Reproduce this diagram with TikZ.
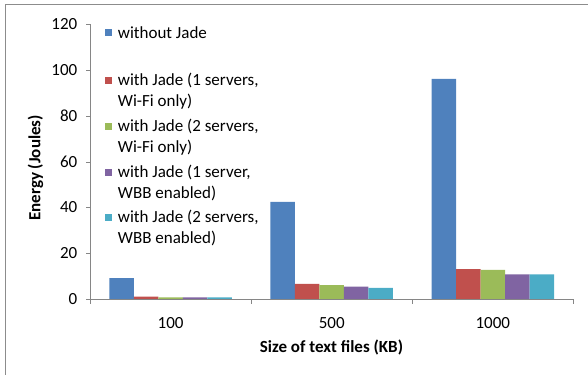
\documentclass[tikz,border=0pt]{standalone}
\usepackage{fontspec}
\setmainfont{Carlito}
\definecolor{nojade}{HTML}{4F81BD}
\definecolor{onewifi}{HTML}{C0504D}
\definecolor{twowifi}{HTML}{9BBB59}
\definecolor{onewbb}{HTML}{8064A2}
\definecolor{twowbb}{HTML}{4BACC6}
\definecolor{axisgray}{HTML}{868686}
\definecolor{framegray}{HTML}{8C8C8C}

\begin{document}
\begin{tikzpicture}[font=\fontsize{17}{21}\selectfont,
                    x=1pt,y=2.2875pt,
                    lbl/.style={inner sep=0pt},
                    key/.style={inner sep=0pt,minimum size=7pt}]
  % x runs in pt, y in joules; the origin sits on the plot corner
  \useasboundingbox (-90,-33.22) rectangle (498,130.71);
  \draw[framegray,line width=1.5pt] (-84.5,-34) -- (-84.5,128.74) -- (499,128.74);

  % bars, one path per series, three file sizes each
  \fill[nojade]   (19.3,0) rectangle (43.8,9.1)
                  (180.4,0) rectangle (204.9,42.5)
                  (341.5,0) rectangle (366.0,96.2);
  \fill[onewifi]  (43.8,0) rectangle (68.3,1.0)
                  (204.9,0) rectangle (229.4,6.6)
                  (366.0,0) rectangle (390.5,13.1);
  \fill[twowifi]  (68.3,0) rectangle (92.8,0.7)
                  (229.4,0) rectangle (253.9,6.1)
                  (390.5,0) rectangle (415.0,12.7);
  \fill[onewbb]   (92.8,0) rectangle (117.3,0.7)
                  (253.9,0) rectangle (278.4,5.4)
                  (415.0,0) rectangle (439.5,10.8);
  \fill[twowbb]   (117.3,0) rectangle (141.8,0.7)
                  (278.4,0) rectangle (302.9,4.9)
                  (439.5,0) rectangle (464.0,10.8);

  % axes and ticks
  \draw[axisgray] (0,120) -- (0,0) -- (483.3,0);
  \draw[axisgray] (-4,0) -- (0,0) (-4,20) -- (0,20) (-4,40) -- (0,40)
                  (-4,60) -- (0,60) (-4,80) -- (0,80) (-4,100) -- (0,100)
                  (-4,120) -- (0,120);
  \draw[axisgray] (0,0) -- (0,-2.2) (161.1,0) -- (161.1,-2.2)
                  (322.2,0) -- (322.2,-2.2) (483.3,0) -- (483.3,-2.2);

  \node[lbl,anchor=east] (y0)   at (-12.5,0)   {0};
  \node[lbl,anchor=east] (y20)  at (-12.5,20)  {20};
  \node[lbl,anchor=east] (y40)  at (-12.5,40)  {40};
  \node[lbl,anchor=east] (y60)  at (-12.5,60)  {60};
  \node[lbl,anchor=east] (y80)  at (-12.5,80)  {80};
  \node[lbl,anchor=east] (y100) at (-12.5,100) {100};
  \node[lbl,anchor=east] (y120) at (-12.5,120) {120};

  \node[lbl] (x100)  at (80.6,-10.4)  {100};
  \node[lbl] (x500)  at (241.7,-10.4) {500};
  \node[lbl] (x1000) at (402.8,-10.4) {1000};

  \node[lbl,font=\fontsize{17}{21}\selectfont\bfseries] (xtitle)
    at (241.5,-21.4) {Size of text files (KB)};
  \node[lbl,font=\fontsize{17}{21}\selectfont\bfseries,rotate=90] (ytitle)
    at (-54.5,57.3) {Energy (Joules)};

  % legend
  \node[key,fill=nojade]  (k1) at (18.5,116.3) {};
  \node[key,fill=onewifi] (k2) at (18.5,95.3)  {};
  \node[key,fill=twowifi] (k3) at (18.5,75.3)  {};
  \node[key,fill=onewbb]  (k4) at (18.5,55.5)  {};
  \node[key,fill=twowbb]  (k5) at (18.5,35.5)  {};
  \node[lbl,anchor=west] (t1) at (27.7,116.3) {without Jade};
  \node[lbl,anchor=west,align=left] (t2) at (27.7,90.7)
    {with Jade (1 servers,\\Wi-Fi only)};
  \node[lbl,anchor=west,align=left] (t3) at (27.7,70.7)
    {with Jade (2 servers,\\Wi-Fi only)};
  \node[lbl,anchor=west,align=left] (t4) at (27.7,50.9)
    {with Jade (1 server,\\WBB enabled)};
  \node[lbl,anchor=west,align=left] (t5) at (27.7,30.9)
    {with Jade (2 servers,\\WBB enabled)};
\end{tikzpicture}
\end{document}
